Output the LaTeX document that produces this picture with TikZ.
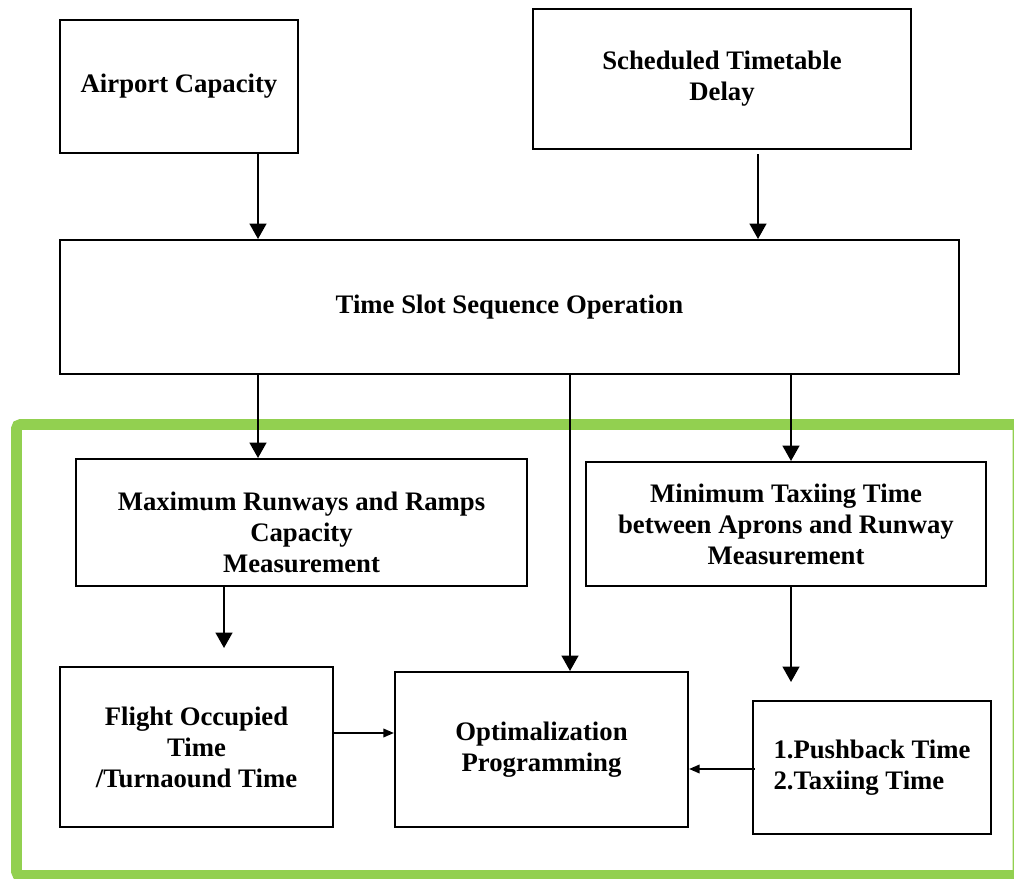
\documentclass[tikz,border=0pt]{standalone}
\usepackage{fontspec}
\setmainfont{Liberation Serif}
\usetikzlibrary{arrows.meta}
\definecolor{framegreen}{RGB}{146,208,80}

\begin{document}
\begin{tikzpicture}[x=0.025cm, y=-0.025cm]
  \tikzset{
    box/.style={draw=black, line width=1.4pt, align=center, inner sep=0pt,
      font=\fontsize{19}{22}\selectfont\bfseries},
    arr/.style={line width=1.4pt, -{Triangle[length=11pt, width=12pt]}},
    sarr/.style={line width=1.4pt, -{Triangle[length=7.5pt, width=6pt]}}
  }
  \clip (0,0) rectangle (1014,879);

  % — green frame round the lower part (runs off the right edge) —
  \draw[framegreen, line width=7.8pt, rounded corners=3pt] (16.5,424.5) rectangle (1018,875.5);

  % — top row —
  \node[box, minimum width=5.95cm, minimum height=3.325cm] (cap) at (179,86.5) {Airport Capacity};
  \node[box, minimum width=9.45cm, minimum height=3.5cm] (sched) at (722,79) {Scheduled Timetable\\Delay};
  \node[box, minimum width=22.475cm, minimum height=3.35cm] (slot) at (509.5,307) {Time Slot Sequence Operation};

  % — inside the frame —
  \node[box, minimum width=11.275cm, minimum height=3.175cm] (maxrw) at (301.5,522.5) {\rule{0pt}{27pt}Maximum Runways and Ramps\\Capacity\\Measurement};
  \node[box, minimum width=10cm, minimum height=3.1cm] (mintx) at (786,524) {Minimum Taxiing Time\\between Aprons and Runway\\Measurement};
  \node[box, minimum width=6.825cm, minimum height=4cm] (flight) at (196.5,747) {Flight Occupied\\Time\\/Turnaound Time};
  \node[box, minimum width=7.325cm, minimum height=3.875cm] (opt) at (541.5,749.5) {Optimalization\\Programming};
  \node[box, align=left, minimum width=5.95cm, minimum height=3.325cm] (push) at (872,767.5) {1.Pushback Time\\2.Taxiing Time};

  % columns and rows the arrows run along
  \coordinate (c1) at (258,0);
  \coordinate (c2) at (758,0);
  \coordinate (c3) at (570,0);
  \coordinate (c4) at (791,0);
  \coordinate (c5) at (224,0);
  \coordinate (r1) at (0,733);
  \coordinate (r2) at (0,769);

  % — arrows —
  \draw[arr] (cap.south -| c1) -- (slot.north -| c1);
  \draw[arr, shorten <=3pt] (sched.south -| c2) -- (slot.north -| c2);
  \draw[arr] (slot.south -| c1) -- (maxrw.north -| c1);
  \draw[arr] (slot.south -| c3) -- (opt.north -| c3);
  \draw[arr] (slot.south -| c4) -- (mintx.north -| c4);
  \draw[arr, shorten >=0.45cm] (maxrw.south -| c5) -- (flight.north -| c5);
  \draw[arr, shorten >=0.45cm] (mintx.south -| c4) -- (push.north -| c4);
  \draw[sarr] (flight.east |- r1) -- (opt.west |- r1);
  \draw[sarr, shorten <=-2pt] (push.west |- r2) -- (opt.east |- r2);

\end{tikzpicture}
\end{document}
